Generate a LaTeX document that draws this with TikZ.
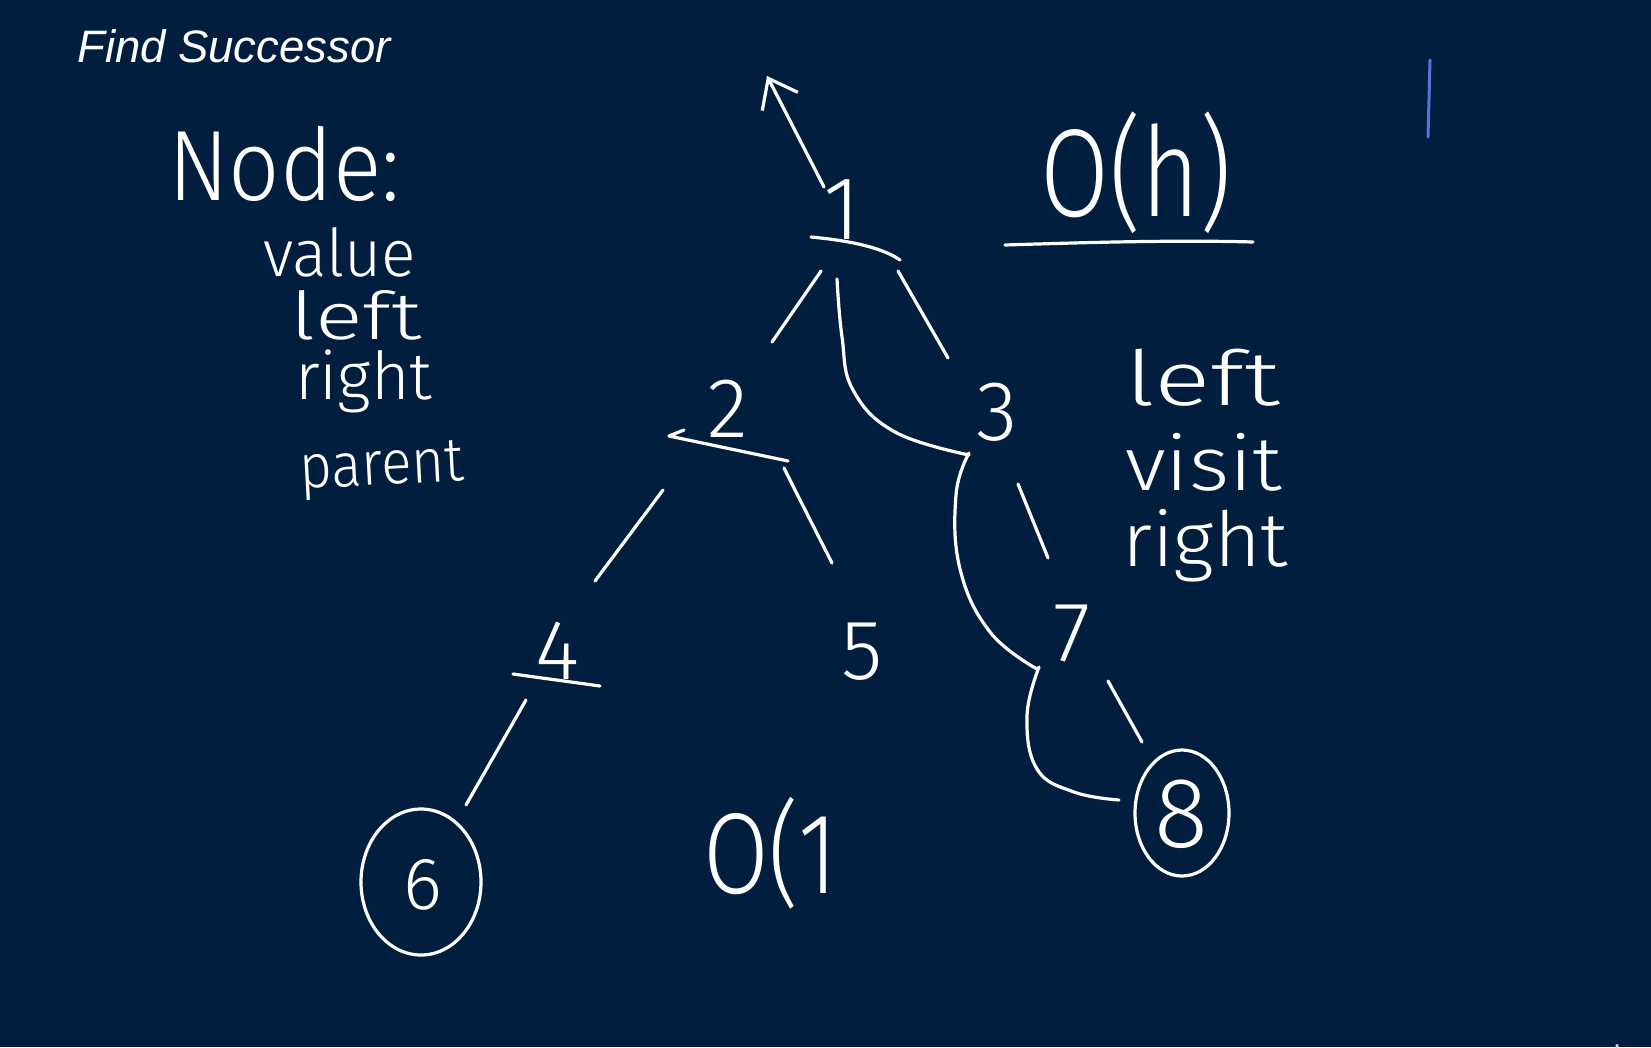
\documentclass[tikz,border=0pt]{standalone}
\usepackage{fontspec}
\setmainfont{Liberation Sans}
\newfontfamily\hand{Fira Sans Light}
\usetikzlibrary{arrows.meta}
\definecolor{bg}{RGB}{2,30,62}
\definecolor{penblue}{RGB}{86,116,224}
\newcommand\hwt[2]{\resizebox{#1pt}{\height}{#2}}
\begin{document}
\begin{tikzpicture}[x=1pt,y=-1pt,
  pen/.style={draw=white, line width=3.2pt, line cap=round, line join=round},
  hw/.style={text=white, font=\hand\fontsize{#1}{#1}\selectfont, inner sep=0pt, anchor=base west},
  digit/.style={text=white, font=\hand\fontsize{#1}{#1}\selectfont, inner sep=0pt, anchor=base}]
\fill[bg] (0,0) rectangle (1651,1047);
\useasboundingbox (0,0) rectangle (1651,1047);
% title
\node[anchor=west, text=white, inner sep=0pt, font=\itshape\fontsize{45.5}{50}\selectfont] (title) at (77,46) {Find Successor};
% left notes
\node[hw=100] (nodeword) at (168,200) {\hwt{232}{Node:}};
\node[hw=66] (value) at (263,276) {\hwt{153}{value}};
\node[hw=66] (leftf) at (290,339) {\hwt{131}{left}};
\node[hw=66] (rightf) at (295,399) {\hwt{137}{right}};
\node[hw=62, rotate=3] (parent) at (300,489) {\hwt{165}{parent}};
% complexity
\node[hw=125] (oh) at (1040,216) {\hwt{192}{O(h)}};
\coordinate (ohl) at (1005,245);
\coordinate (ohr) at (1253,242);
\draw[pen] (ohl) .. controls (1100,242) and (1180,240) .. (ohr);
\node[hw=115] (oone) at (703,893) {\hwt{134}{O(1}};
% right notes
\node[hw=76] (lefto) at (1125,405) {\hwt{155}{left}};
\node[hw=76] (visit) at (1125,490) {\hwt{157}{visit}};
\node[hw=76] (righto) at (1122,566) {\hwt{166}{right}};
% tree digits
\node[digit=90] (one) at (842,239) {1};
\node[digit=85] (two) at (728,437) {2};
\node[digit=85] (three) at (997,440) {3};
\node[digit=85] (four) at (558,679) {4};
\node[digit=85] (five) at (862,679) {5};
\node[digit=85] (seven) at (1072,661) {7};
\node[digit=74] (six) at (423,909) {6};
\node[digit=100] (eight) at (1181,847) {8};
% circles
\coordinate (sixc) at (421,882);
\coordinate (eightc) at (1182,813);
\draw[pen] (sixc) ellipse [x radius=60, y radius=73];
\draw[pen] (eightc) ellipse [x radius=47, y radius=63];
% arrow up from 1
\coordinate (upstart) at (824,187);
\coordinate (uptip) at (767,76);
\draw[pen, -{Straight Barb[length=26pt,width=40pt]}] (upstart) -- (uptip);
% underlines of digits
\draw[pen] (811,237) .. controls (843,240) and (880,246) .. (900,260);
\draw[pen] (684,430) -- (669,436) -- (788,461);
\draw[pen] (513,674) -- (600,686);
% edges
\coordinate (e12a) at (821,271); \coordinate (e12b) at (772,342);
\coordinate (e13a) at (898,271); \coordinate (e13b) at (948,358);
\coordinate (e24a) at (663,490); \coordinate (e24b) at (595,581);
\coordinate (e25a) at (784,468); \coordinate (e25b) at (832,563);
\coordinate (e37a) at (1018,484); \coordinate (e37b) at (1048,558);
\coordinate (e78a) at (1108,681); \coordinate (e78b) at (1142,742);
\coordinate (e46a) at (526,700); \coordinate (e46b) at (466,805);
\draw[pen] (e12a) -- (e12b);
\draw[pen] (e13a) -- (e13b);
\draw[pen] (e24a) -- (e24b);
\draw[pen] (e25a) .. controls (800,500) .. (e25b);
\draw[pen] (e37a) -- (e37b);
\draw[pen] (e78a) -- (e78b);
\draw[pen] (e46a) -- (e46b);
% traversal path
\draw[pen] plot[smooth, tension=0.7] coordinates {(837,279) (842,337) (853,390) (895,432) (969,455)};
\draw[pen] plot[smooth, tension=0.7] coordinates {(969,453) (956,495) (960,569) (990,632) (1037,669)};
\draw[pen] plot[smooth, tension=0.7] coordinates {(1039,667) (1027,716) (1037,769) (1074,792) (1119,800)};
% blue pen mark
\coordinate (bluetop) at (1430,60);
\coordinate (bluebot) at (1428,137);
\draw[penblue, line width=3pt, line cap=round] (bluetop) -- (bluebot);
% cut-off text
\node[anchor=base west, text=white!85!bg, inner sep=0pt, font=\fontsize{30}{32}\selectfont] (algo) at (1597,1066) {algo};
\end{tikzpicture}
\end{document}
